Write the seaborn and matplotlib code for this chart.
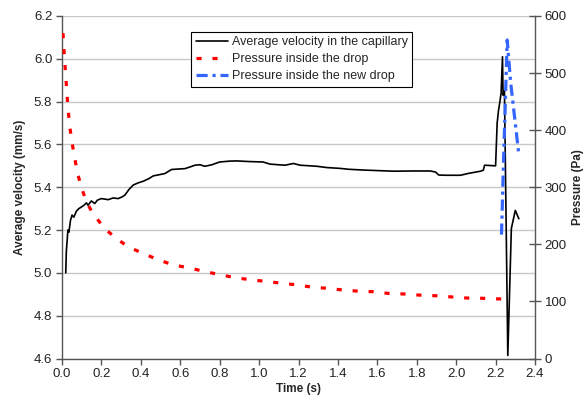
import matplotlib
matplotlib.use("Agg")
import matplotlib.pyplot as plt
import seaborn as sns
import pandas as pd
from matplotlib.lines import Line2D

# ---- data ----
vel_t = [0.019, 0.022, 0.03, 0.035, 0.043, 0.051, 0.06, 0.073, 0.085, 0.099, 0.11, 0.124, 0.132,
         0.149, 0.166, 0.18, 0.2, 0.215, 0.234, 0.26, 0.285, 0.305, 0.319, 0.34, 0.361, 0.385,
         0.412, 0.44, 0.463, 0.49, 0.522, 0.556, 0.59, 0.624, 0.65, 0.675, 0.7, 0.725, 0.76, 0.8,
         0.85, 0.887, 0.95, 1.02, 1.056, 1.1, 1.132, 1.174, 1.208, 1.293, 1.344, 1.412, 1.454,
         1.539, 1.683, 1.78, 1.869, 1.895, 1.912, 1.95, 2.022, 2.064, 2.124, 2.138, 2.144, 2.2,
         2.208, 2.215, 2.222, 2.228, 2.235, 2.238, 2.245, 2.262, 2.28, 2.30, 2.318]
vel_v = [5.00, 5.10, 5.20, 5.19, 5.245, 5.27, 5.26, 5.288, 5.30, 5.308, 5.315, 5.327, 5.316,
         5.336, 5.324, 5.34, 5.347, 5.345, 5.342, 5.35, 5.347, 5.355, 5.363, 5.39, 5.41, 5.42,
         5.428, 5.44, 5.453, 5.458, 5.464, 5.483, 5.485, 5.487, 5.495, 5.503, 5.505, 5.498, 5.505,
         5.518, 5.522, 5.523, 5.52, 5.518, 5.508, 5.505, 5.503, 5.511, 5.503, 5.498, 5.492, 5.488,
         5.484, 5.48, 5.475, 5.476, 5.476, 5.471, 5.457, 5.456, 5.456, 5.465, 5.475, 5.48, 5.503,
         5.5, 5.70, 5.76, 5.80, 5.84, 6.01, 5.83, 5.85, 4.614, 5.207, 5.292, 5.253]

drop_t = [0.005, 0.01, 0.02, 0.03, 0.04, 0.05, 0.065, 0.08, 0.1, 0.125, 0.15, 0.175, 0.2, 0.222,
          0.28, 0.34, 0.412, 0.488, 0.564, 0.641, 0.717, 0.798, 0.873, 0.954, 1.036, 1.11, 1.192,
          1.268, 1.344, 1.426, 1.502, 1.581, 1.657, 1.737, 1.815, 1.894, 1.971, 2.05, 2.13, 2.21, 2.27]
drop_p = [570, 540, 490, 440, 405, 380, 350, 323, 298, 274, 258, 246, 235, 226,
          209, 195, 184, 173, 164, 159, 153, 147, 142, 138, 135, 132, 129,
          125, 123, 120, 118, 117, 114, 113, 111, 110, 108, 106, 105.5, 104.5, 104]

new_t = [2.23, 2.242, 2.259, 2.276, 2.296, 2.318]
new_p = [217, 365, 558, 485, 424, 357]

x_ticks = [0.0, 0.2, 0.4, 0.6, 0.8, 1.0, 1.2, 1.4, 1.6, 1.8, 2.0, 2.2, 2.4]
yl_ticks = [4.6, 4.8, 5.0, 5.2, 5.4, 5.6, 5.8, 6.0, 6.2]
yr_ticks = [0, 100, 200, 300, 400, 500, 600]

labels = ["Average velocity in the capillary", "Pressure inside the drop", "Pressure inside the new drop"]

# ---- style ----
sns.set_style("white")
plt.rcParams['font.family'] = ['Liberation Sans', 'DejaVu Sans']

RED_DASH = (1.6, 3.4)
BLUE_DASH = (3.5, 1.5, 1.0, 1.5)

fig = plt.figure(figsize=(5.86, 4.05), dpi=100)
ax = fig.add_axes([62/586, 1 - 358.5/405, 473/586, 342.5/405])
ax2 = ax.twinx()

vel_df = pd.DataFrame({"t": vel_t, "v": vel_v})
drop_df = pd.DataFrame({"t": drop_t, "p": drop_p})
new_df = pd.DataFrame({"t": new_t, "p": new_p})

sns.lineplot(data=vel_df, x="t", y="v", ax=ax, color="black", lw=1.2, estimator=None, sort=False)
sns.lineplot(data=drop_df, x="t", y="p", ax=ax2, color="#ff0000", lw=2.3, estimator=None, sort=False)
sns.lineplot(data=new_df, x="t", y="p", ax=ax2, color="#3366ff", lw=2.3, estimator=None, sort=False)
ax2.lines[0].set_dashes(RED_DASH)
ax2.lines[1].set_dashes(BLUE_DASH)

ax.set_xlim(0, 2.4)
ax.set_ylim(4.6, 6.2)
ax2.set_ylim(0, 600)
ax.set_xticks(x_ticks)
ax.set_xticklabels([f"{v:.1f}" for v in x_ticks])
ax.set_yticks(yl_ticks)
ax.set_yticklabels([f"{v:.1f}" for v in yl_ticks])
ax2.set_yticks(yr_ticks)
ax2.set_yticklabels([str(v) for v in yr_ticks])

ax.yaxis.grid(True, color="#c8c8c8", lw=1)
ax.xaxis.grid(False)
ax.set_axisbelow(True)

spine_col = "#555555"
for a in (ax, ax2):
    a.spines['top'].set_visible(False)
    for s in ('left', 'right', 'bottom'):
        a.spines[s].set_color(spine_col)
        a.spines[s].set_linewidth(1.0)
ax.spines['right'].set_visible(False)
ax2.spines['left'].set_visible(False)
ax2.spines['bottom'].set_visible(False)

ax.tick_params(axis='both', which='major', labelsize=9.5, colors=spine_col, labelcolor="#222222",
               length=4, width=1, direction='out', pad=3)
ax.tick_params(left=True, bottom=True)
ax2.tick_params(axis='y', labelsize=9.5, colors=spine_col, labelcolor="#222222",
                length=8, width=1, direction='inout', pad=3, right=True)

ax.set_xlabel("Time (s)", fontsize=8.5, fontweight='bold', labelpad=2)
ax.set_ylabel("Average velocity (mm/s)", fontsize=8.5, fontweight='bold', labelpad=6)
ax2.set_ylabel("Pressure (Pa)", fontsize=8.5, fontweight='bold')
ax2.yaxis.set_label_coords(1.078, 0.5)

handles = [Line2D([], [], color="black", lw=1.2),
           Line2D([], [], color="#ff0000", lw=2.3, dashes=RED_DASH),
           Line2D([], [], color="#3366ff", lw=2.3, dashes=BLUE_DASH)]
leg = ax2.legend(handles, labels, loc='upper left', bbox_to_anchor=(0.273, 0.953), borderaxespad=0,
                 fontsize=9, frameon=True, fancybox=False, framealpha=1, edgecolor="black",
                 handlelength=2.6, handletextpad=0.3, labelspacing=0.4, borderpad=0.35)
leg.get_frame().set_linewidth(0.8)

fig.savefig("out.png", dpi=100)
